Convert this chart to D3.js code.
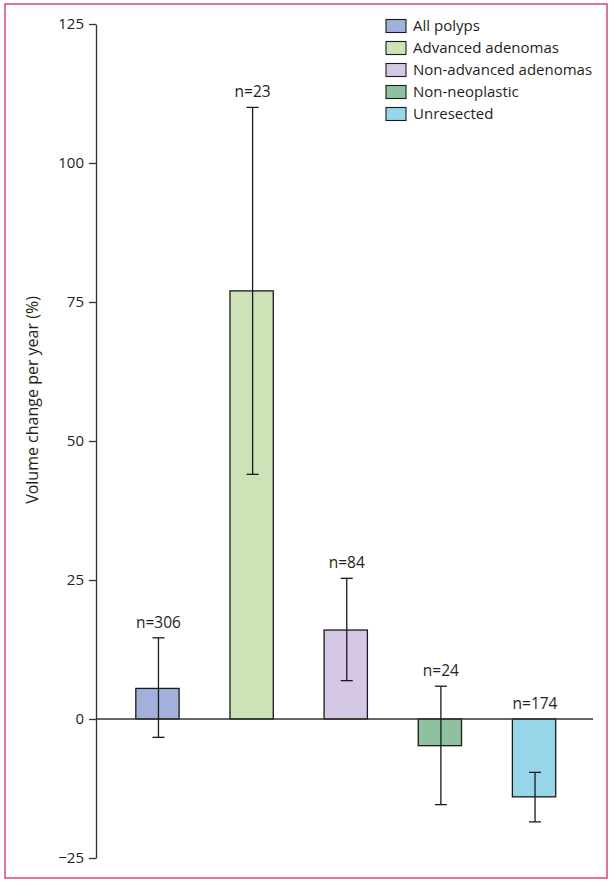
<!DOCTYPE html>
<html>
<head>
<meta charset="utf-8">
<script src="https://cdn.jsdelivr.net/npm/d3@7"></script>
<style>
  body { margin: 0; background: #fff; }
  svg text { font-family: "Open Sans", "Noto Sans", sans-serif; fill: #231f20; }
</style>
</head>
<body>
<div id="chart"></div>
<script>
// values
var categories = ["All polyps", "Advanced adenomas", "Non-advanced adenomas", "Non-neoplastic", "Unresected"];
var means = [5.5, 77, 16, -4.8, -14];
var lower = [-3.3, 44, 6.9, -15.4, -18.5];
var upper = [14.6, 110, 25.3, 5.9, -9.6];
var counts = [306, 23, 84, 24, 174];
var colors = ["#a3b0dc", "#cde2b7", "#d4c8e4", "#8fc09f", "#97d6e9"];
var yTicks = [-25, 0, 25, 50, 75, 100, 125];

var w = 614, h = 884;
var svg = d3.select("#chart").append("svg")
    .attr("width", w)
    .attr("height", h);

// pink frame
svg.append("rect")
    .attr("x", 5).attr("y", 4)
    .attr("width", 602).attr("height", 874)
    .attr("fill", "none")
    .attr("stroke", "#d5496f")
    .attr("stroke-width", 1.5);

var y = d3.scaleLinear().domain([-25, 125]).range([858, 24]);
var x = d3.scaleBand().domain(categories)
    .range([110.4, 581.1])
    .paddingInner(0.54)
    .paddingOuter(0.27);

// y axis
var yAxis = svg.append("g")
    .attr("transform", "translate(96,0)")
    .call(d3.axisLeft(y).tickValues(yTicks).tickSize(7).tickPadding(5).tickSizeOuter(0));
yAxis.select(".domain").attr("stroke", "#333").attr("stroke-width", 1.3);
yAxis.selectAll(".tick line").attr("stroke", "#333").attr("stroke-width", 1.3);
yAxis.selectAll(".tick text")
    .style("font-size", "15px")
    .text(function(d) { return d < 0 ? "\u2212" + Math.abs(d) : d; });

svg.append("text")
    .attr("transform", "translate(38,400) rotate(-90)")
    .attr("text-anchor", "middle")
    .style("font-size", "16px")
    .text("Volume change per year (%)");

// bars
svg.selectAll(".bar")
    .data(categories)
    .enter().append("rect")
    .attr("class", "bar")
    .attr("x", function(d) { return x(d); })
    .attr("width", x.bandwidth())
    .attr("y", function(d, i) { return y(Math.max(0, means[i])); })
    .attr("height", function(d, i) { return Math.abs(y(means[i]) - y(0)); })
    .attr("fill", function(d, i) { return colors[i]; })
    .attr("stroke", "#1a1a1a")
    .attr("stroke-width", 1.3);

// zero line
svg.append("line")
    .attr("x1", 96).attr("x2", 593)
    .attr("y1", y(0)).attr("y2", y(0))
    .attr("stroke", "#333")
    .attr("stroke-width", 1.3);

// error bars
var cap = 6;
var err = svg.selectAll(".err")
    .data(categories)
    .enter().append("g")
    .attr("class", "err")
    .attr("transform", function(d) { return "translate(" + (x(d) + x.bandwidth() / 2 + 1) + ",0)"; });
err.append("line")
    .attr("y1", function(d, i) { return y(lower[i]); })
    .attr("y2", function(d, i) { return y(upper[i]); });
err.append("line")
    .attr("x1", -cap).attr("x2", cap)
    .attr("y1", function(d, i) { return y(upper[i]); })
    .attr("y2", function(d, i) { return y(upper[i]); });
err.append("line")
    .attr("x1", -cap).attr("x2", cap)
    .attr("y1", function(d, i) { return y(lower[i]); })
    .attr("y2", function(d, i) { return y(lower[i]); });
err.selectAll("line").attr("stroke", "#1a1a1a").attr("stroke-width", 1.3);

// n labels
svg.selectAll(".nlab")
    .data(categories)
    .enter().append("text")
    .attr("class", "nlab")
    .attr("x", function(d) { return x(d) + x.bandwidth() / 2 + 1; })
    .attr("y", function(d, i) { return y(Math.max(0, upper[i])) - 10; })
    .attr("text-anchor", "middle")
    .style("font-size", "15.5px")
    .text(function(d, i) { return "n=" + counts[i]; });

// legend
var legend = svg.selectAll(".legend")
    .data(categories)
    .enter().append("g")
    .attr("class", "legend")
    .attr("transform", function(d, i) { return "translate(386," + (26 + i * 22) + ")"; });
legend.append("rect")
    .attr("x", 0).attr("y", -6.5)
    .attr("width", 20).attr("height", 13)
    .attr("fill", function(d, i) { return colors[i]; })
    .attr("stroke", "#1a1a1a")
    .attr("stroke-width", 1.1);
legend.append("text")
    .attr("x", 27)
    .attr("dy", "0.36em")
    .style("font-size", "15px")
    .text(function(d) { return d; });
</script>
</body>
</html>
